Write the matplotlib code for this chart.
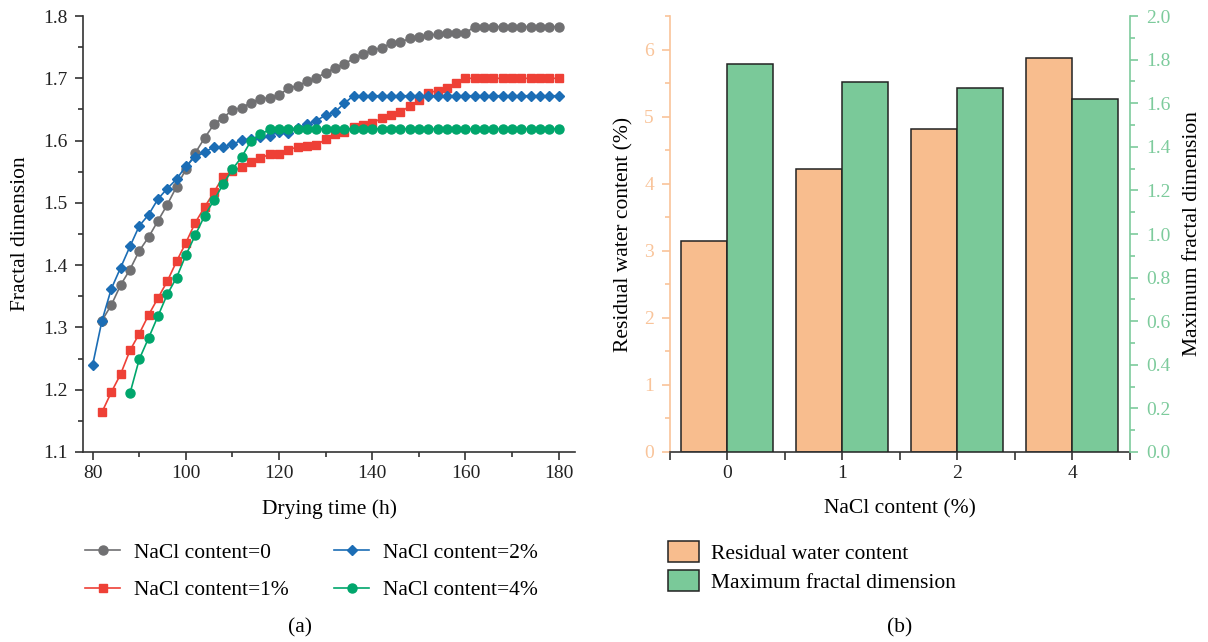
import numpy as np
import matplotlib as mpl
mpl.use('Agg')
import matplotlib.pyplot as pl
from matplotlib.ticker import MultipleLocator, FormatStrFormatter

mpl.rcParams['font.family'] = 'serif'
mpl.rcParams['font.serif'] = ['Liberation Serif', 'DejaVu Serif']
mpl.rcParams['xtick.direction'] = 'out'
mpl.rcParams['ytick.direction'] = 'out'
mpl.rcParams['xtick.labelsize'] = 14
mpl.rcParams['ytick.labelsize'] = 14
mpl.rcParams['axes.labelsize'] = 15.5
mpl.rcParams['axes.linewidth'] = 1.2

# ---- panel (a): fractal dimension vs drying time ----
t_0 = [82, 84, 86, 88, 90, 92, 94, 96, 98, 100, 102, 104, 106, 108, 110, 112, 114, 116, 118, 120,
       122, 124, 126, 128, 130, 132, 134, 136, 138, 140, 142, 144, 146, 148, 150, 152, 154, 156, 158, 160,
       162, 164, 166, 168, 170, 172, 174, 176, 178, 180]
fd_0 = [1.311, 1.336, 1.368, 1.393, 1.423, 1.445, 1.471, 1.497, 1.526, 1.554, 1.580, 1.604, 1.626, 1.637, 1.649, 1.653, 1.661, 1.667, 1.669, 1.673,
        1.684, 1.688, 1.695, 1.701, 1.709, 1.717, 1.723, 1.732, 1.739, 1.745, 1.749, 1.756, 1.758, 1.764, 1.766, 1.769, 1.771, 1.773, 1.773, 1.773,
        1.783, 1.783, 1.783, 1.783, 1.783, 1.783, 1.783, 1.783, 1.783, 1.783]

t_1 = [82, 84, 86, 88, 90, 92, 94, 96, 98, 100, 102, 104, 106, 108, 110, 112, 114, 116, 118, 120,
       122, 124, 126, 128, 130, 132, 134, 136, 138, 140, 142, 144, 146, 148, 150, 152, 154, 156, 158, 160,
       162, 164, 166, 168, 170, 172, 174, 176, 178, 180]
fd_1 = [1.164, 1.196, 1.225, 1.263, 1.290, 1.320, 1.347, 1.374, 1.406, 1.436, 1.468, 1.493, 1.517, 1.542, 1.551, 1.558, 1.566, 1.572, 1.578, 1.579,
        1.585, 1.590, 1.592, 1.593, 1.602, 1.610, 1.614, 1.622, 1.625, 1.628, 1.636, 1.641, 1.646, 1.655, 1.665, 1.677, 1.680, 1.685, 1.692, 1.700,
        1.700, 1.700, 1.700, 1.700, 1.700, 1.700, 1.700, 1.700, 1.700, 1.700]

t_2 = [80, 82, 84, 86, 88, 90, 92, 94, 96, 98, 100, 102, 104, 106, 108, 110, 112, 114, 116, 118, 120,
       122, 124, 126, 128, 130, 132, 134, 136, 138, 140, 142, 144, 146, 148, 150, 152, 154, 156, 158, 160,
       162, 164, 166, 168, 170, 172, 174, 176, 178, 180]
fd_2 = [1.240, 1.311, 1.362, 1.396, 1.430, 1.463, 1.481, 1.506, 1.523, 1.538, 1.559, 1.574, 1.581, 1.590, 1.590, 1.594, 1.601, 1.602, 1.605, 1.608, 1.614,
        1.613, 1.620, 1.626, 1.632, 1.641, 1.646, 1.660, 1.672, 1.672, 1.672, 1.672, 1.672, 1.672, 1.672, 1.672, 1.672, 1.672, 1.672, 1.672, 1.672,
        1.672, 1.672, 1.672, 1.672, 1.672, 1.672, 1.672, 1.672, 1.672, 1.672]

t_4 = [88, 90, 92, 94, 96, 98, 100, 102, 104, 106, 108, 110, 112, 114, 116, 118, 120,
       122, 124, 126, 128, 130, 132, 134, 136, 138, 140, 142, 144, 146, 148, 150, 152, 154, 156, 158, 160,
       162, 164, 166, 168, 170, 172, 174, 176, 178, 180]
fd_4 = [1.194, 1.249, 1.283, 1.318, 1.353, 1.380, 1.416, 1.448, 1.479, 1.504, 1.530, 1.554, 1.574, 1.600, 1.610, 1.618, 1.619,
        1.619, 1.619, 1.619, 1.619, 1.619, 1.619, 1.619, 1.619, 1.619, 1.619, 1.619, 1.619, 1.619, 1.619, 1.619, 1.619, 1.619, 1.619, 1.619, 1.619,
        1.619, 1.619, 1.619, 1.619, 1.619, 1.619, 1.619, 1.619, 1.619, 1.619]

# ---- panel (b): bars ----
nacl_labels = ['0', '1', '2', '4']
residual_water = [3.15, 4.22, 4.81, 5.88]
max_fd = [1.779, 1.698, 1.668, 1.619]

c_gray = '#707072'
c_red = '#EE4036'
c_blue = '#1B6DB5'
c_green = '#00A66C'
c_bar_orange = '#F8BD8E'
c_bar_green = '#7AC999'
c_tick_orange = '#F9C49A'
c_tick_green = '#7DCB9C'

fig = pl.figure(figsize=(12.08, 6.42), dpi=100)

# panel (a)
ax1 = fig.add_axes([0.069, 0.296, 0.407, 0.679])
ax1.plot(t_0, fd_0, color=c_gray, marker='o', ms=6.5, lw=1.2, label='NaCl content=0')
ax1.plot(t_1, fd_1, color=c_red, marker='s', ms=6, lw=1.2, label='NaCl content=1%')
ax1.plot(t_2, fd_2, color=c_blue, marker='D', ms=5.5, lw=1.2, label='NaCl content=2%')
ax1.plot(t_4, fd_4, color=c_green, marker='o', ms=6.5, lw=1.2, label='NaCl content=4%')

ax1.set_xlim(78, 183.5)
ax1.set_ylim(1.1, 1.8)
ax1.xaxis.set_major_locator(MultipleLocator(20))
ax1.xaxis.set_minor_locator(MultipleLocator(10))
ax1.yaxis.set_major_locator(MultipleLocator(0.1))
ax1.yaxis.set_minor_locator(MultipleLocator(0.05))
ax1.yaxis.set_major_formatter(FormatStrFormatter('%.1f'))
ax1.spines['top'].set_visible(False)
ax1.spines['right'].set_visible(False)
for sp in ['left', 'bottom']:
    ax1.spines[sp].set_color('#333333')
ax1.tick_params(which='major', length=6, width=1.2, colors='#333333', labelcolor='#222222')
ax1.tick_params(axis='y', which='major', pad=5.5)
ax1.tick_params(which='minor', length=3.5, width=1.2, colors='#333333')
ax1.set_xlabel('Drying time (h)', labelpad=12)
ax1.set_ylabel('Fractal dimension', labelpad=9)

h, l = ax1.get_legend_handles_labels()
fig.legend(h, l, loc='upper left', bbox_to_anchor=(0.0547, 0.185), bbox_transform=fig.transFigure,
           ncol=2, frameon=False, fontsize=15.5, handlelength=1.6, handletextpad=0.65,
           columnspacing=2.12, labelspacing=0.82)
fig.text(0.248, 0.022, '(a)', ha='center', va='center', fontsize=15.5)

# panel (b)
ax2 = fig.add_axes([0.5546, 0.296, 0.3808, 0.679])
ax3 = ax2.twinx()
xpos = np.arange(len(nacl_labels))
w = 0.4
b1 = ax2.bar(xpos - w / 2, residual_water, w, color=c_bar_orange, edgecolor='#222222', lw=1.1,
             label='Residual water content')
b2 = ax3.bar(xpos + w / 2, max_fd, w, color=c_bar_green, edgecolor='#222222', lw=1.1,
             label='Maximum fractal dimension')

ax2.set_xlim(-0.5, 3.5)
ax2.set_ylim(0, 6.5)
ax3.set_ylim(0, 2.0)
ax2.set_xticks(xpos)
ax2.set_xticklabels(nacl_labels)
ax2.set_xticks(np.arange(-0.5, 3.6, 1.0), minor=True)
ax2.yaxis.set_major_locator(MultipleLocator(1))
ax2.yaxis.set_minor_locator(MultipleLocator(0.5))
ax3.yaxis.set_major_locator(MultipleLocator(0.2))
ax3.yaxis.set_minor_locator(MultipleLocator(0.1))
ax3.yaxis.set_major_formatter(FormatStrFormatter('%.1f'))

for a in (ax2, ax3):
    a.spines['top'].set_visible(False)
ax2.spines['right'].set_visible(False)
ax3.spines['left'].set_visible(False)
ax3.spines['bottom'].set_visible(False)
ax2.spines['left'].set_color(c_tick_orange)
ax3.spines['right'].set_color(c_tick_green)
ax2.spines['bottom'].set_color('#333333')

ax2.tick_params(axis='x', which='both', length=6, width=1.2, colors='#333333', labelcolor='#222222')
ax2.tick_params(axis='y', which='major', length=6, width=1.2, colors=c_tick_orange, pad=5.5)
ax2.tick_params(axis='y', which='minor', length=3.5, width=1.2, colors=c_tick_orange)
ax3.tick_params(axis='y', which='major', length=6, width=1.2, colors=c_tick_green, pad=5.5)
ax3.tick_params(axis='y', which='minor', length=3.5, width=1.2, colors=c_tick_green)

ax2.set_xlabel('NaCl content (%)', labelpad=12)
ax2.set_ylabel('Residual water content (%)', labelpad=8)
ax3.set_ylabel('Maximum fractal dimension', labelpad=9)

fig.legend([b1, b2], ['Residual water content', 'Maximum fractal dimension'], loc='upper left',
           bbox_to_anchor=(0.537, 0.187), bbox_transform=fig.transFigure, frameon=False,
           fontsize=15.5, handlelength=1.45, handleheight=1.1, handletextpad=0.56, labelspacing=0.3)
fig.text(0.745, 0.022, '(b)', ha='center', va='center', fontsize=15.5)

fig.savefig('out.png', dpi=100)
pl.close()
